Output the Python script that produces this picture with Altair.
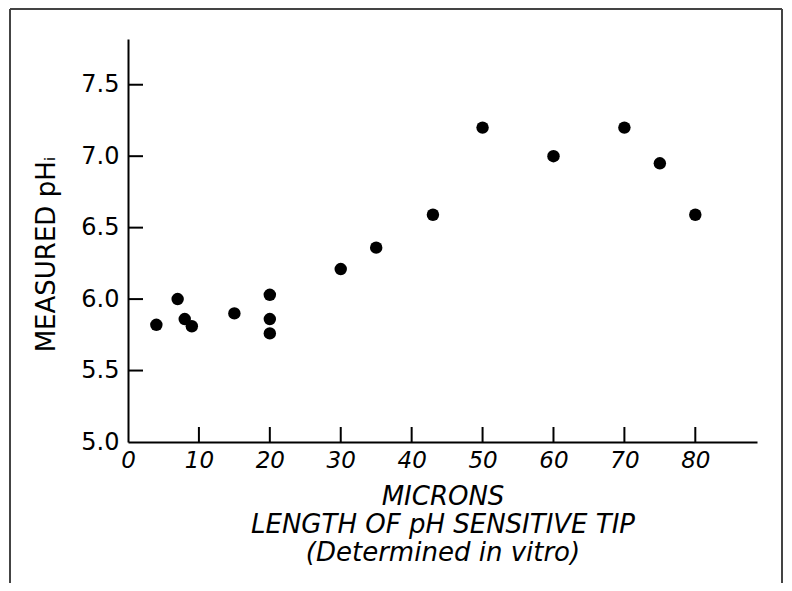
import altair as alt
import pandas as pd

# ---- data ----
microns = [4, 7, 8, 9, 15, 20, 20, 20, 30, 35, 43, 50, 60, 70, 75, 80]
ph_i = [5.82, 6.00, 5.86, 5.81, 5.90, 6.03, 5.86, 5.76, 6.21, 6.36, 6.59, 7.20, 7.00, 7.20, 6.95, 6.59]
x_ticks = [0, 10, 20, 30, 40, 50, 60, 70, 80]
y_ticks = [5.0, 5.5, 6.0, 6.5, 7.0, 7.5]
x_title = ["MICRONS", "LENGTH OF pH SENSITIVE TIP", "(Determined in vitro)"]
y_title = "MEASURED pHᵢ"

W, H = 629, 403
FONT = "DejaVu Sans"

df = pd.DataFrame({"microns": microns, "ph": ph_i})
xt = pd.DataFrame({"microns": x_ticks[1:]})
yt = pd.DataFrame({"ph": y_ticks[1:]})
one = pd.DataFrame({"a": [0]})

xscale = alt.Scale(domain=[0, 88.7], nice=False, zero=False)
yscale = alt.Scale(domain=[5.0, 7.82], nice=False, zero=False)

xaxis = alt.Axis(
    values=x_ticks, ticks=False, grid=False,
    domainColor="black", domainWidth=2,
    labelFont=FONT, labelFontSize=23, labelFontStyle="italic",
    labelColor="black", labelPadding=7, labelFlush=False, labelOverlap=False,
    title=x_title, titleFont=FONT, titleFontSize=26, titleFontStyle="italic",
    titleFontWeight="normal", titleColor="black", titleLineHeight=28,
    titleBaseline="alphabetic", titleY=62,
)
yaxis = alt.Axis(
    values=y_ticks, format=".1f", ticks=False, grid=False,
    domainColor="black", domainWidth=2,
    labelFont=FONT, labelFontSize=24, labelColor="black",
    labelPadding=9, labelOverlap=False,
    title=y_title, titleFont=FONT, titleFontSize=26,
    titleFontWeight="normal", titleColor="black",
    titleAngle=270, titleBaseline="alphabetic", titleAlign="center",
    titleX=-74, titleY=215,
)

points = alt.Chart(df).mark_circle(size=155, color="black", opacity=1).encode(
    x=alt.X("microns:Q", scale=xscale, axis=xaxis),
    y=alt.Y("ph:Q", scale=yscale, axis=yaxis),
)

xtick = alt.Chart(xt).mark_rule(color="black", strokeWidth=2).encode(
    x=alt.X("microns:Q", scale=xscale, axis=xaxis),
    y=alt.value(H),
    y2=alt.value(H - 15),
)
ytick = alt.Chart(yt).mark_rule(color="black", strokeWidth=2).encode(
    y=alt.Y("ph:Q", scale=yscale, axis=yaxis),
    x=alt.value(0),
    x2=alt.value(15),
)

frame_col = "#444444"
frame_left = alt.Chart(one).mark_rule(color=frame_col, strokeWidth=2).encode(
    x=alt.value(-118), y=alt.value(-30), y2=alt.value(545)
)
frame_top = alt.Chart(one).mark_rule(color=frame_col, strokeWidth=2).encode(
    x=alt.value(-118), x2=alt.value(654), y=alt.value(-30)
)
frame_right = alt.Chart(one).mark_rule(color=frame_col, strokeWidth=2).encode(
    x=alt.value(654), y=alt.value(-30), y2=alt.value(545)
)

chart = (
    alt.layer(points, xtick, ytick, frame_left, frame_top, frame_right)
    .properties(
        width=W,
        height=H,
        autosize=alt.AutoSizeParams(type="none"),
        padding={"left": 120, "top": 31, "right": 27, "bottom": 141},
        background="white",
    )
    .configure_view(strokeWidth=0)
)

chart.save("out.html", embed_options={"renderer": "svg", "actions": False})
